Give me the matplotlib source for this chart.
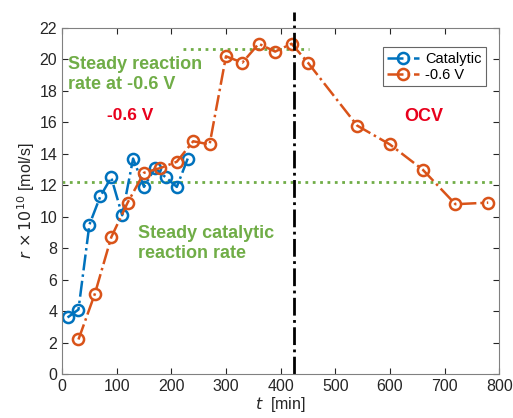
import numpy as np
import matplotlib
matplotlib.use('Agg')
import matplotlib.pyplot as plt

# ------------------------------------------------------------
# DATA
# ------------------------------------------------------------
t_cat = [10, 30, 50, 70, 90, 110, 130, 150, 170, 190, 210, 230]
r_cat = [3.6, 4.1, 9.5, 11.3, 12.5, 10.1, 13.7, 11.9, 13.1, 12.5, 11.9, 13.7]

t_v = [30, 60, 90, 120, 150, 180, 210, 240, 270, 300, 330, 360, 390, 420,
       450, 540, 600, 660, 720, 780]
r_v = [2.2, 5.1, 8.7, 10.9, 12.8, 13.1, 13.5, 14.8, 14.6, 20.2, 19.8, 21.0,
       20.5, 21.0, 19.8, 15.8, 14.6, 13.0, 10.8, 10.9]

steady_cat = 12.2
steady_v = 20.65
steady_v_span = [222, 452]
t_switch = 424

xticks = list(range(0, 801, 100))
yticks = list(range(0, 23, 2))

blue = '#0072BD'
orange = '#D95319'
green = '#70AD47'
red = '#E8001C'
grey = '#262626'

plt.rcParams['font.family'] = ['Arial', 'Liberation Sans', 'DejaVu Sans']

fig = plt.figure(figsize=(5.13, 4.18), dpi=100)
ax = fig.add_axes([0.121, 0.105, 0.852, 0.828])

# steady-state guides
ax.plot([0, 790], [steady_cat, steady_cat], ':', color=green, lw=2)
ax.plot(steady_v_span, [steady_v, steady_v], ':', color=green, lw=2)

# data
mk = dict(marker='o', ms=8, mfc='none', mew=1.8, lw=1.8)
ax.plot(t_cat, r_cat, '-.', color=blue, label='Catalytic', **mk)
ax.plot(t_v, r_v, '-.', color=orange, label='-0.6 V', **mk)

# switch to OCV
ax.plot([t_switch, t_switch], [0, 23.0], '-.', color='k', lw=2, clip_on=False)

ax.set_xlim(0, 800)
ax.set_ylim(0, 22)
ax.set_xticks(xticks)
ax.set_yticks(yticks)
ax.tick_params(direction='in', top=True, right=True, labelsize=11.5,
               colors=grey, length=4, labelcolor=grey)
for s in ax.spines.values():
    s.set_color('#808080')
    s.set_linewidth(0.8)

ax.set_xlabel(r'$t$  [min]', fontsize=11.5, color=grey, labelpad=1)
ax.set_ylabel(r'$r\,\times 10^{10}$ [mol/s]', fontsize=11.5, color=grey, labelpad=2)

# annotations
ax.text(11, 19.05, 'Steady reaction\nrate at -0.6 V', color=green, fontsize=13,
        fontweight='bold', va='center', linespacing=1.2)
ax.text(82, 16.45, '-0.6 V', color=red, fontsize=12.5, fontweight='bold', va='center')
ax.text(627, 16.35, 'OCV', color=red, fontsize=13, fontweight='bold', va='center')
ax.text(139, 8.3, 'Steady catalytic\nreaction rate', color=green, fontsize=13,
        fontweight='bold', va='center', linespacing=1.2)

leg = ax.legend(loc='upper right', fontsize=10.5, handlelength=2.2,
                borderpad=0.3, labelspacing=0.15, handletextpad=0.4,
                fancybox=False, edgecolor='#404040', bbox_to_anchor=(0.987, 0.965))
leg.get_frame().set_linewidth(0.8)

fig.savefig('out.png', dpi=100)
